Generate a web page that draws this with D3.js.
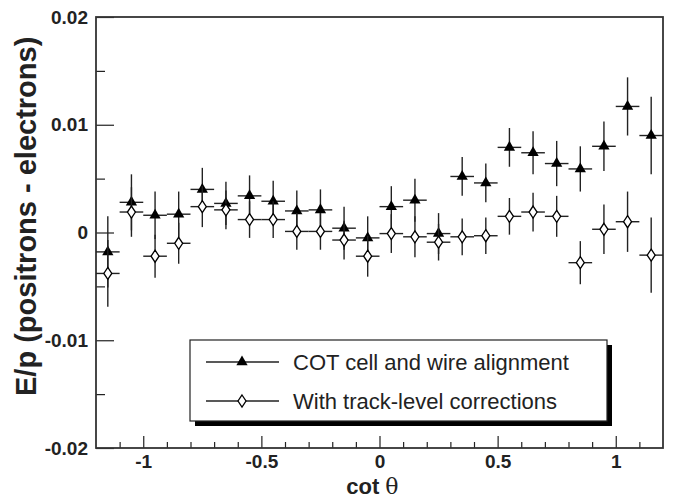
<!DOCTYPE html>
<html>
<head>
<meta charset="utf-8">
<script src="https://cdn.jsdelivr.net/npm/d3@7"></script>
<style>
  body { margin: 0; background: #fff; }
  text { font-family: "Liberation Sans", Arial, sans-serif; }
</style>
</head>
<body>
<svg></svg>
<script>
// Bin centres in cot theta, and the half-width of each bin
const cotTheta = [-1.15, -1.05, -0.95, -0.85, -0.75, -0.65, -0.55, -0.45, -0.35, -0.25, -0.15, -0.05,
                  0.05, 0.15, 0.25, 0.35, 0.45, 0.55, 0.65, 0.75, 0.85, 0.95, 1.05, 1.15];
const binHalf = [0.05];

// COT cell and wire alignment (filled triangles)
const cellWire = [-0.0018, 0.0028, 0.0016, 0.0017, 0.0040, 0.0027, 0.0034, 0.0029, 0.0020, 0.0021, 0.0004, -0.0005,
                  0.0024, 0.0030, -0.0001, 0.0052, 0.0046, 0.0079, 0.0074, 0.0064, 0.0059, 0.0080, 0.0117, 0.0090];
const cellWireErr = [0.0033, 0.0026, 0.0022, 0.0021, 0.0020, 0.0020, 0.0019, 0.0019, 0.0019, 0.0019, 0.0020, 0.0020,
                     0.0019, 0.0020, 0.0019, 0.0018, 0.0018, 0.0018, 0.0020, 0.0021, 0.0021, 0.0023, 0.0027, 0.0036];

// With track-level corrections (open diamonds)
const trackLevel = [-0.0038, 0.0019, -0.0022, -0.0010, 0.0024, 0.0021, 0.0012, 0.0012, 0.0001, 0.0001, -0.0007, -0.0022,
                    -0.0001, -0.0004, -0.0009, -0.0004, -0.0003, 0.0015, 0.0019, 0.0015, -0.0028, 0.0003, 0.0010, -0.0021];
const trackLevelErr = [0.0031, 0.0023, 0.0020, 0.0019, 0.0019, 0.0018, 0.0017, 0.0017, 0.0017, 0.0017, 0.0018, 0.0019,
                       0.0018, 0.0019, 0.0017, 0.0017, 0.0017, 0.0017, 0.0018, 0.0019, 0.0020, 0.0023, 0.0028, 0.0035];

// Axis ticks
const xMajor = [-1, -0.5, 0, 0.5, 1];
const xMinor = [-1.1, -0.9, -0.8, -0.7, -0.6, -0.4, -0.3, -0.2, -0.1, 0.1, 0.2, 0.3, 0.4, 0.6, 0.7, 0.8, 0.9, 1.1];
const yMajor = [-0.02, -0.01, 0, 0.01, 0.02];
const yMinor = [-0.015, -0.005, 0.005, 0.015];

const legendLabels = ["COT cell and wire alignment", "With track-level corrections"];

// Set dimensions and margins of the graph
const margin = { top: 17, right: 17, bottom: 52, left: 96 },
width = 680 - margin.left - margin.right,
height = 500 - margin.top - margin.bottom;

const svg = d3.select("svg")
        .attr("width", 680)
        .attr("height", 500)
        .append("g")
        .attr("transform", `translate(${margin.left},${margin.top})`);

const x = d3.scaleLinear().domain([-1.2, 1.2]).range([0, width]);
const y = d3.scaleLinear().domain([-0.02, 0.02]).range([height, 0]);

// X axis: major ticks with labels, minor ticks without
svg.append("g")
  .attr("transform", `translate(0,${height})`)
  .call(d3.axisBottom(x).tickValues(xMajor).tickSize(-12).tickPadding(7).tickFormat(d => String(d)));
svg.append("g")
  .attr("transform", `translate(0,${height})`)
  .call(d3.axisBottom(x).tickValues(xMinor).tickSize(-6).tickFormat(""));

// Y axis
svg.append("g")
  .call(d3.axisLeft(y).tickValues(yMajor).tickSize(-18).tickPadding(8).tickFormat(d => String(d)));
svg.append("g")
  .call(d3.axisLeft(y).tickValues(yMinor).tickSize(-9).tickFormat(""));

svg.selectAll(".domain").remove();
svg.selectAll(".tick line").attr("stroke", "#222").attr("stroke-width", 1.2);
svg.selectAll(".tick text")
  .attr("fill", "#222")
  .style("font-size", "19px")
  .style("font-weight", "bold")
  .style("font-family", "'Liberation Sans', Arial, sans-serif");

// Frame
svg.append("rect")
  .attr("width", width)
  .attr("height", height)
  .attr("fill", "none")
  .attr("stroke", "#333")
  .attr("stroke-width", 1.8);

// Axis titles
svg.append("text")
  .attr("x", x(-0.03))
  .attr("y", height + 46)
  .attr("text-anchor", "middle")
  .attr("fill", "#222")
  .style("font-size", "22px")
  .style("font-weight", "bold")
  .html("cot <tspan style='font-weight:normal;font-family:DejaVu Serif,serif'>θ</tspan>");

svg.append("text")
  .attr("transform", `translate(${-60},${y(0.0015)}) rotate(-90)`)
  .attr("text-anchor", "middle")
  .attr("fill", "#222")
  .style("font-size", "29px")
  .style("font-weight", "bold")
  .text("E/p (positrons - electrons)");

const triangle = d3.symbol().type(d3.symbolTriangle).size(55);
const diamond = "M0,-6L4,0L0,6L-4,0Z";

// Draw one series: error bars then markers
function drawSeries(vals, errs, filled) {
  const pts = cotTheta.map((c, i) => ({ c: c, v: vals[i], e: errs[i] }));
  const g = svg.append("g");
  g.selectAll(".xerr").data(pts).enter().append("line")
    .attr("x1", d => x(d.c - binHalf[0])).attr("x2", d => x(d.c + binHalf[0]))
    .attr("y1", d => y(d.v)).attr("y2", d => y(d.v))
    .attr("stroke", "#222").attr("stroke-width", 1.4);
  g.selectAll(".yerr").data(pts).enter().append("line")
    .attr("x1", d => x(d.c)).attr("x2", d => x(d.c))
    .attr("y1", d => y(d.v - d.e)).attr("y2", d => y(d.v + d.e))
    .attr("stroke", "#222").attr("stroke-width", 1.4);
  g.selectAll(".mk").data(pts).enter().append("path")
    .attr("transform", d => `translate(${x(d.c)},${y(d.v)})`)
    .attr("d", filled ? triangle() : diamond)
    .attr("fill", filled ? "#000" : "#fff")
    .attr("stroke", "#000")
    .attr("stroke-width", filled ? 0 : 1.3);
}
drawSeries(cellWire, cellWireErr, true);
drawSeries(trackLevel, trackLevelErr, false);

// Legend with drop shadow
const lg = svg.append("g").attr("transform", `translate(${190 - margin.left},${340 - margin.top})`);
lg.append("rect").attr("x", 5).attr("y", 5).attr("width", 417).attr("height", 81).attr("fill", "#000");
lg.append("rect").attr("width", 417).attr("height", 81).attr("fill", "#fff")
  .attr("stroke", "#222").attr("stroke-width", 1.2);
legendLabels.forEach((lab, i) => {
  const ly = 22 + i * 39;
  lg.append("line").attr("x1", 16).attr("x2", 89).attr("y1", ly).attr("y2", ly)
    .attr("stroke", "#222").attr("stroke-width", 1.4);
  lg.append("path")
    .attr("transform", `translate(52,${ly})`)
    .attr("d", i === 0 ? triangle() : diamond)
    .attr("fill", i === 0 ? "#000" : "#fff")
    .attr("stroke", "#000")
    .attr("stroke-width", i === 0 ? 0 : 1.3);
  lg.append("text").attr("x", 103).attr("y", ly).attr("dy", "0.36em")
    .attr("fill", "#222")
    .style("font-size", "22px")
    .text(lab);
});
</script>
</body>
</html>
